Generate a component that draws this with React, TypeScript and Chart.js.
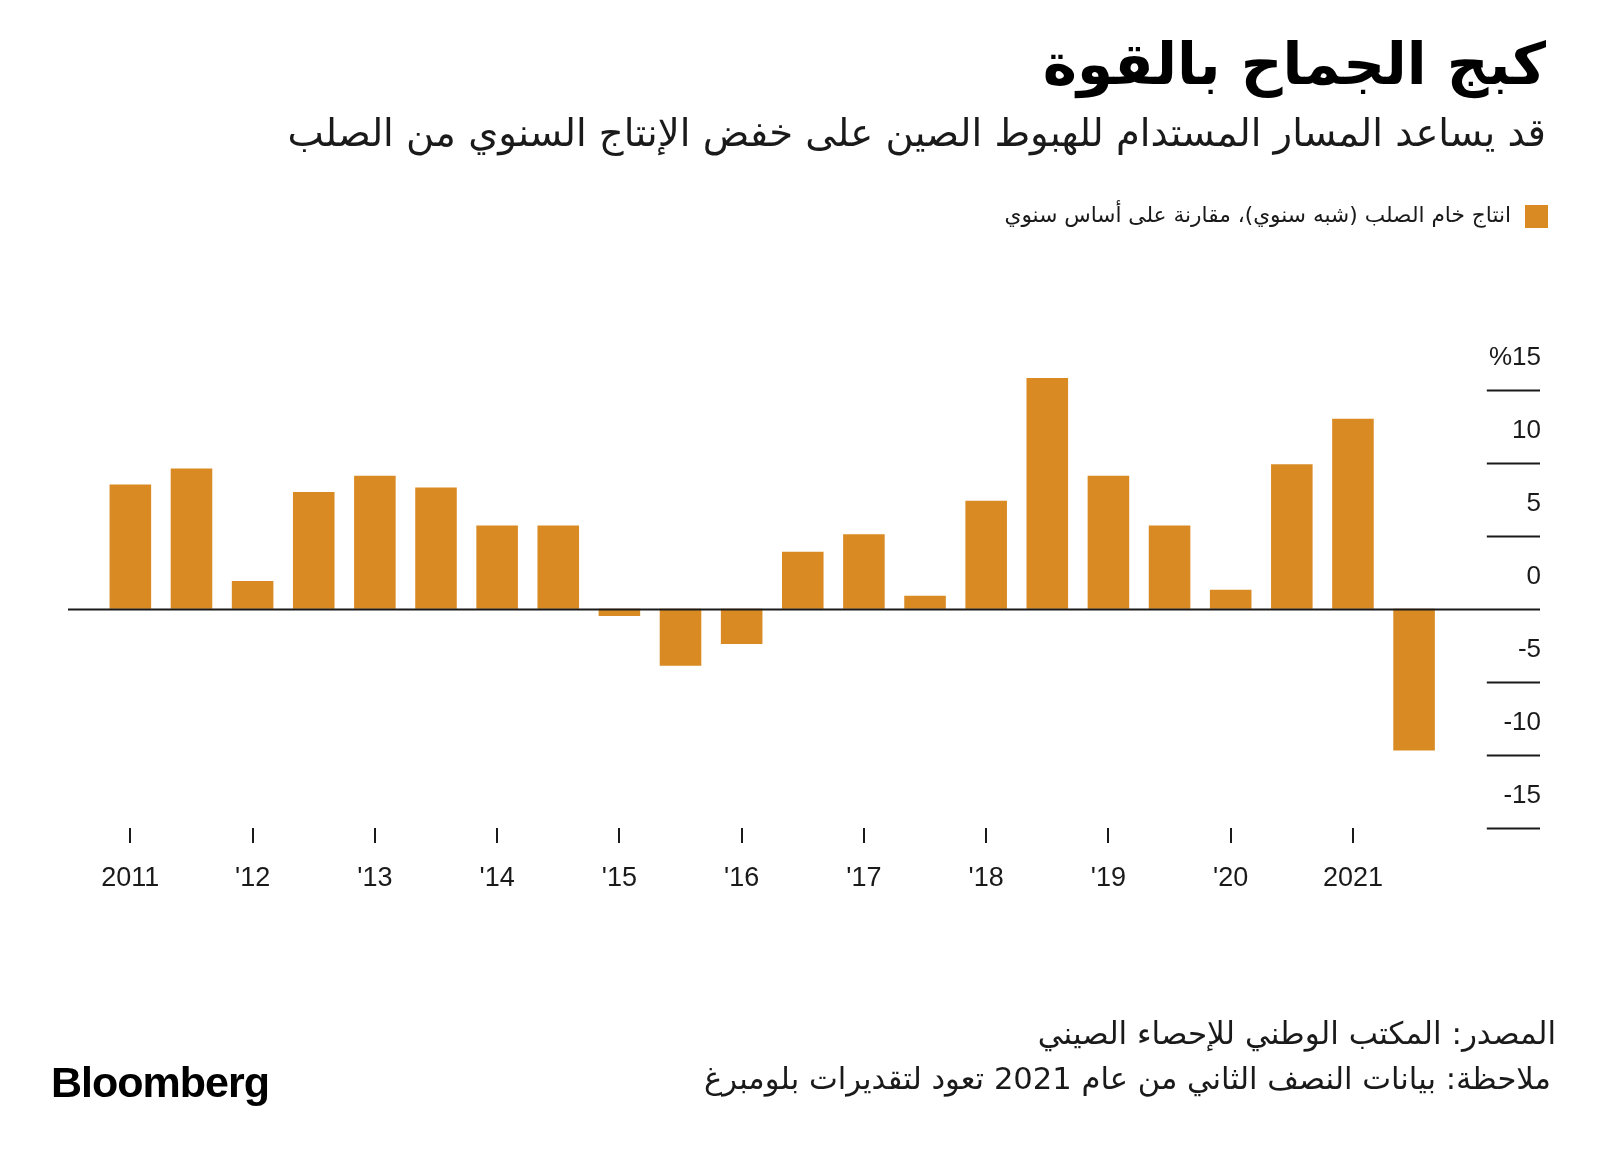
import React, { useEffect, useRef } from "react";
import { Chart, registerables } from "chart.js";

Chart.register(...registerables);

// Half-year periods, 2011 H1 .. 2021 H2
const periods = [
  "2011 H1", "2011 H2", "2012 H1", "2012 H2", "2013 H1", "2013 H2",
  "2014 H1", "2014 H2", "2015 H1", "2015 H2", "2016 H1", "2016 H2",
  "2017 H1", "2017 H2", "2018 H1", "2018 H2", "2019 H1", "2019 H2",
  "2020 H1", "2020 H2", "2021 H1", "2021 H2",
];
const steelOutputYoY = [
  8.5, 9.6, 1.9, 8.0, 9.1, 8.3, 5.7, 5.7, -0.5, -3.9, -2.4,
  3.9, 5.1, 0.9, 7.4, 15.8, 9.1, 5.7, 1.3, 9.9, 13.0, -9.7,
];
const xTickLabels = ["2011", "'12", "'13", "'14", "'15", "'16", "'17", "'18", "'19", "'20", "2021"];
const yTickValues = [15, 10, 5, 0, -5, -10, -15];
const yTickLabels = ["%15", "10", "5", "0", "-5", "-10", "-15"];

const ORANGE = "#DA8A23";
const INK = "#1a1a1a";
const ARABIC = "'DejaVu Sans', 'Noto Sans', sans-serif";
const LATIN = "'Liberation Sans', Arial, Helvetica, sans-serif";

const rightAxisPlugin = {
  id: "rightAxis",
  afterDatasetsDraw(chart: any) {
    const { ctx, scales } = chart;
    const x = scales.x;
    const y = scales.y;
    ctx.save();
    ctx.strokeStyle = INK;
    ctx.lineWidth = 2;
    ctx.fillStyle = INK;
    ctx.font = `26px ${LATIN}`;
    ctx.textAlign = "right";
    ctx.textBaseline = "middle";
    const xEnd = x.right;
    yTickValues.forEach((v, i) => {
      const py = Math.round(y.getPixelForValue(v)) + 0.5;
      const xStart = v === 0 ? x.left : x.getPixelForValue(22.19);
      ctx.beginPath();
      ctx.moveTo(xStart, py);
      ctx.lineTo(xEnd, py);
      ctx.stroke();
      ctx.fillText(yTickLabels[i], xEnd + 1, py - 33);
    });
    ctx.restore();
  },
};

function SteelChart() {
  const ref = useRef<HTMLCanvasElement | null>(null);
  useEffect(() => {
    if (!ref.current) return;
    const chart = new Chart(ref.current, {
      type: "bar",
      data: {
        labels: periods,
        datasets: [
          {
            label: "steel",
            data: steelOutputYoY.map((v, i) => ({ x: i, y: v })) as any,
            backgroundColor: ORANGE,
            borderWidth: 0,
            barPercentage: 0.68,
            categoryPercentage: 1,
          },
        ],
      },
      options: {
        animation: false,
        responsive: false,
        layout: { padding: { top: 375, left: 68, right: 60, bottom: 253 } },
        plugins: { legend: { display: false }, tooltip: { enabled: false } },
        scales: {
          x: {
            type: "linear",
            min: -1.02,
            max: 23.06,
            offset: false,
            afterBuildTicks: (s: any) => {
              s.ticks = xTickLabels.map((_, i) => ({ value: i * 2 }));
            },
            afterFit: (s: any) => {
              s.height = 80;
            },
            grid: {
              offset: false,
              drawOnChartArea: false,
              drawTicks: true,
              tickLength: 15,
              lineWidth: 2,
              color: INK,
            },
            border: { display: false },
            ticks: {
              autoSkip: false,
              maxRotation: 0,
              padding: 19,
              color: INK,
              font: { family: LATIN, size: 27 },
              callback: (_v: any, i: number) => xTickLabels[i],
            },
          } as any,
          y: {
            type: "linear",
            display: false,
            min: -15,
            max: 16,
          },
        },
      },
      plugins: [rightAxisPlugin],
    });
    return () => chart.destroy();
  }, []);
  return (
    <canvas
      ref={ref}
      width={1600}
      height={1161}
      style={{ position: "absolute", left: 0, top: 0, width: 1600, height: 1161 }}
    />
  );
}

export default function App() {
  const rtl: React.CSSProperties = {
    position: "absolute",
    right: 54,
    direction: "rtl",
    textAlign: "right",
    whiteSpace: "nowrap",
    color: INK,
    fontFamily: ARABIC,
    lineHeight: 1,
  };
  return (
    <div style={{ position: "absolute", left: 0, top: 0, width: 1600, height: 1161, background: "#fff", overflow: "hidden" }}>
      <SteelChart />
      <div style={{ ...rtl, top: 35, fontSize: 58, fontWeight: 700, color: "#000" }}>كبج الجماح بالقوة</div>
      <div style={{ ...rtl, top: 114, fontSize: 38.5 }}>
        قد يساعد المسار المستدام للهبوط الصين على خفض الإنتاج السنوي من الصلب
      </div>
      <div style={{ position: "absolute", left: 1525, top: 205, width: 23, height: 23, background: ORANGE }} />
      <div style={{ ...rtl, right: 89, top: 204, fontSize: 21.7 }}>
        انتاج خام الصلب (شبه سنوي)، مقارنة على أساس سنوي
      </div>
      <div style={{ ...rtl, right: 44, top: 1018, fontSize: 31 }}>المصدر: المكتب الوطني للإحصاء الصيني</div>
      <div style={{ ...rtl, right: 49, top: 1064, fontSize: 30.6 }}>
        ملاحظة: بيانات النصف الثاني من عام 2021 تعود لتقديرات بلومبرغ
      </div>
      <div
        style={{
          position: "absolute",
          left: 51,
          top: 1061,
          fontFamily: LATIN,
          fontWeight: 700,
          fontSize: 43,
          letterSpacing: -1,
          color: "#000",
          lineHeight: 1,
        }}
      >
        Bloomberg
      </div>
    </div>
  );
}
